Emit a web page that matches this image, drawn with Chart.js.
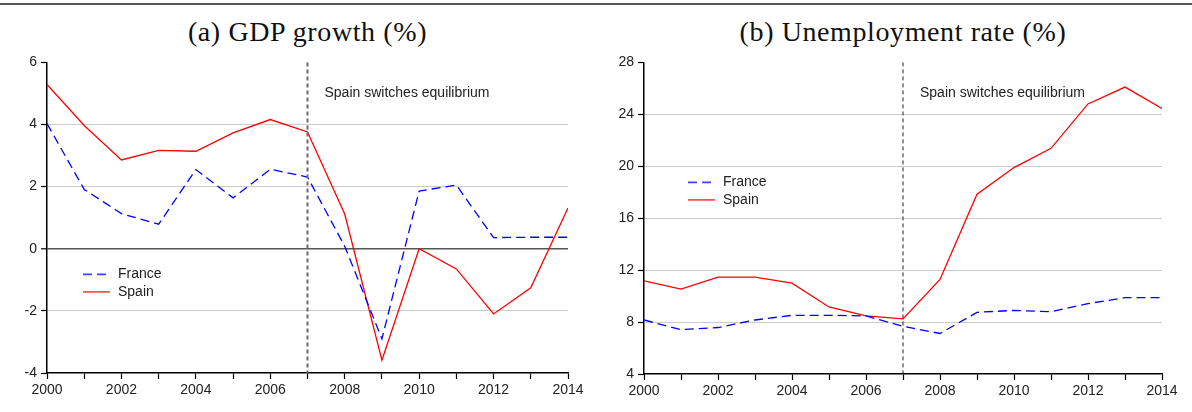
<!DOCTYPE html>
<html>
<head>
<meta charset="utf-8">
<script src="https://cdn.jsdelivr.net/npm/chart.js@4.4.1/dist/chart.umd.min.js"></script>
<style>
  html, body { margin: 0; padding: 0; background: #fff; }
  body { width: 1192px; height: 412px; position: relative; overflow: hidden; }
  .rule { position: absolute; left: 0; top: 3px; width: 1192px; height: 2px; background: #555; }
  .title { position: absolute; top: 16px; font-family: "Liberation Serif", "DejaVu Serif", serif; font-size: 28px; letter-spacing: 0.6px; line-height: 32px; color: #111; text-align: center; }
  .panel { position: absolute; top: 50px; width: 596px; height: 362px; }
</style>
</head>
<body>
<div class="rule"></div>
<div class="title" style="left:47px;width:521px;">(a) GDP growth (%)</div>
<div class="title" style="left:644px;width:518px;">(b) Unemployment rate (%)</div>
<div class="panel" style="left:0;"><canvas id="gdpChart" width="596" height="362"></canvas></div>
<div class="panel" style="left:596px;"><canvas id="unempChart" width="596" height="362"></canvas></div>

<script>
// years 2000..2014
const years = [2000, 2001, 2002, 2003, 2004, 2005, 2006, 2007, 2008, 2009, 2010, 2011, 2012, 2013, 2014];

// (a) GDP growth, %
const gdpFrance = [4.03, 1.91, 1.13, 0.79, 2.55, 1.64, 2.56, 2.31, 0.08, -2.9, 1.86, 2.05, 0.36, 0.37, 0.37];
const gdpSpain  = [5.29, 3.97, 2.86, 3.17, 3.14, 3.73, 4.16, 3.76, 1.12, -3.59, 0.0, -0.65, -2.1, -1.26, 1.31];

// (b) Unemployment rate, %
const unFrance = [8.16, 7.42, 7.58, 8.16, 8.52, 8.52, 8.47, 7.68, 7.12, 8.75, 8.9, 8.8, 9.42, 9.88, 9.88];
const unSpain  = [11.18, 10.54, 11.46, 11.46, 11.0, 9.16, 8.47, 8.24, 11.28, 17.85, 19.9, 21.38, 24.8, 26.1, 24.45];

const gdpTicks = { min: -4, max: 6, step: 2 };
const unTicks = { min: 4, max: 28, step: 4 };
const switchYear = 2007;
const switchLabel = 'Spain switches equilibrium';

const FONT = '"Liberation Sans", Arial, sans-serif';
const BLUE = '#0000ff';
const RED = '#ff0000';

function pts(vals) {
    return years.map((y, i) => ({ x: y, y: vals[i] }));
}

// vertical marker, annotation text and legend drawn inside the plot
const overlayPlugin = {
    id: 'overlay',
    afterDatasetsDraw(chart, args, opts) {
        const { ctx, chartArea, scales } = chart;
        const x = scales.x.getPixelForValue(switchYear);
        ctx.save();
        ctx.strokeStyle = opts.vColor;
        ctx.lineWidth = opts.vWidth;
        ctx.setLineDash([4, 3]);
        ctx.beginPath();
        ctx.moveTo(x, chartArea.top);
        ctx.lineTo(x, chartArea.bottom);
        ctx.stroke();
        ctx.setLineDash([]);

        ctx.fillStyle = '#222';
        ctx.font = '14px ' + FONT;
        ctx.textBaseline = 'middle';
        ctx.textAlign = 'left';
        ctx.fillText(switchLabel, x + 17, chartArea.top + 31);

        // legend
        const lx = chartArea.left + opts.legendDx;
        let ly = chartArea.top + opts.legendDy;
        chart.data.datasets.forEach(ds => {
            ctx.strokeStyle = ds.borderColor;
            ctx.globalAlpha = 0.75;
            ctx.lineWidth = 1.6;
            ctx.setLineDash(ds.borderDash || []);
            ctx.beginPath();
            ctx.moveTo(lx, ly);
            ctx.lineTo(lx + 27, ly);
            ctx.stroke();
            ctx.globalAlpha = 1;
            ctx.setLineDash([]);
            ctx.fillStyle = '#222';
            ctx.fillText(ds.label, lx + 35, ly);
            ly += 17.5;
        });
        ctx.restore();
    }
};

function makeChart(id, france, spain, t, o) {
    new Chart(document.getElementById(id), {
        type: 'line',
        data: {
            datasets: [
                { label: 'France', data: pts(france), borderColor: BLUE, borderWidth: 1.3, borderDash: [9, 5], pointRadius: 0, tension: 0 },
                { label: 'Spain', data: pts(spain), borderColor: RED, borderWidth: 1.3, pointRadius: 0, tension: 0 }
            ]
        },
        options: {
            responsive: false,
            animation: false,
            events: [],
            layout: { padding: { top: 11, right: o.padRight, left: 0, bottom: 0 } },
            plugins: {
                legend: { display: false },
                tooltip: { enabled: false },
                overlay: o
            },
            scales: {
                x: {
                    type: 'linear',
                    min: 2000,
                    max: 2014,
                    afterFit: s => { s.height = o.xHeight; },
                    ticks: {
                        stepSize: 1,
                        autoSkip: false,
                        maxRotation: 0,
                        padding: 3,
                        color: '#222',
                        font: { family: FONT, size: 14 },
                        callback: v => (v % 2 === 0 ? String(v) : '')
                    },
                    grid: { drawOnChartArea: false, tickLength: 6, tickColor: '#000', tickWidth: 1.2 },
                    border: { color: '#000', width: 1.5 }
                },
                y: {
                    min: t.min,
                    max: t.max,
                    afterFit: s => { s.width = o.yWidth; },
                    ticks: {
                        stepSize: t.step,
                        padding: 4,
                        color: '#222',
                        font: { family: FONT, size: 14 },
                        callback: v => String(v)
                    },
                    grid: {
                        tickLength: 6,
                        tickColor: '#000',
                        tickWidth: 1.2,
                        lineWidth: c => (c.tick && c.tick.value === 0 ? 1.6 : 1),
                        color: c => {
                            if (!c.tick) return '#ccc';
                            if (c.tick.value === t.max || c.tick.value === t.min) return 'rgba(0,0,0,0)';
                            return c.tick.value === 0 ? '#555' : '#ccc';
                        }
                    },
                    border: { color: '#000', width: 1.5 }
                }
            }
        },
        plugins: [overlayPlugin]
    });
}

makeChart('gdpChart', gdpFrance, gdpSpain, gdpTicks,
    { yWidth: 47, xHeight: 39, padRight: 28, vColor: '#6a6a6a', vWidth: 2, legendDx: 36, legendDy: 212 });
makeChart('unempChart', unFrance, unSpain, unTicks,
    { yWidth: 48, xHeight: 38, padRight: 30, vColor: '#222', vWidth: 1, legendDx: 44, legendDy: 120 });
</script>
</body>
</html>
